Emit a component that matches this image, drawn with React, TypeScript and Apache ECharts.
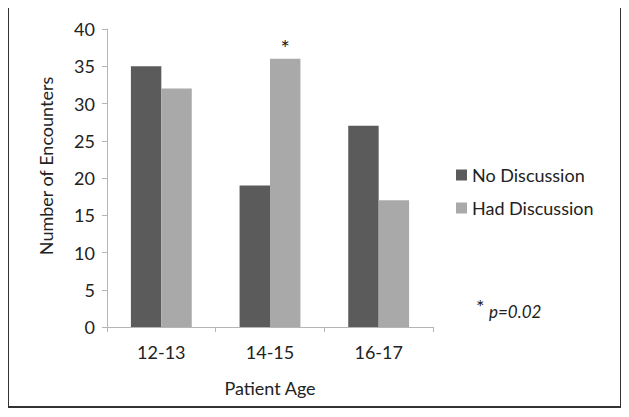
import React, { useEffect, useRef } from "react";
import * as echarts from "echarts";

const categories = ["12-13", "14-15", "16-17"];
const noDiscussion = [35, 19, 27];
const hadDiscussion = [32, 36, 17];
const significant = ["", "*", ""];
const yTicks = { min: 0, max: 40, interval: 5 };

const FONT = "Lato, 'DejaVu Sans', sans-serif";

export default function App() {
  const ref = useRef<HTMLDivElement>(null);
  useEffect(() => {
    if (!ref.current) return;
    const chart = echarts.init(ref.current, undefined, { renderer: "svg" });
    chart.setOption({
      animation: false,
      backgroundColor: "#ffffff",
      textStyle: { fontFamily: FONT },
      grid: { left: 107, right: 196, top: 29, bottom: 90 },
      legend: {
        orient: "vertical",
        left: 451,
        top: 161,
        itemWidth: 11,
        itemHeight: 11,
        itemGap: 15,
        icon: "rect",
        textStyle: { fontFamily: FONT, fontSize: 18, color: "#222" },
        data: ["No Discussion", "Had Discussion"],
      },
      xAxis: {
        type: "category",
        data: categories,
        axisLine: { lineStyle: { color: "#b5b5b5", width: 1 } },
        axisTick: { show: true, length: 5, lineStyle: { color: "#b5b5b5" } },
        axisLabel: { fontSize: 18, color: "#222", margin: 16, fontFamily: FONT },
        name: "Patient Age",
        nameLocation: "middle",
        nameGap: 52,
        nameTextStyle: { fontSize: 18, color: "#222", fontFamily: FONT },
      },
      yAxis: {
        type: "value",
        min: yTicks.min,
        max: yTicks.max,
        interval: yTicks.interval,
        splitLine: { show: false },
        axisLine: { show: true, lineStyle: { color: "#b5b5b5", width: 1 } },
        axisTick: { show: true, length: 5, lineStyle: { color: "#b5b5b5" } },
        axisLabel: { fontSize: 18, color: "#222", margin: 12, fontFamily: FONT },
      },
      series: [
        {
          name: "No Discussion",
          type: "bar",
          data: noDiscussion,
          itemStyle: { color: "#5b5b5b" },
          barGap: "0%",
          barCategoryGap: "44%",
        },
        {
          name: "Had Discussion",
          type: "bar",
          data: hadDiscussion,
          itemStyle: { color: "#a9a9a9" },
          label: {
            show: true,
            position: "top",
            distance: 0,
            fontSize: 22,
            color: "#222",
            formatter: (p: any) => significant[p.dataIndex],
          },
        },
      ],
      graphic: [
        {
          type: "rect",
          shape: { x: 8, y: 7, width: 613, height: 400 },
          style: { fill: "none", stroke: "#333", lineWidth: 2 },
          silent: true,
        },
        {
          type: "text",
          x: 46,
          y: 166,
          rotation: Math.PI / 2,
          style: {
            text: "Number of Encounters",
            fontSize: 18,
            fontFamily: FONT,
            fill: "#222",
            align: "center",
            verticalAlign: "middle",
          },
        },
        {
          type: "text",
          x: 476,
          y: 306,
          style: { text: "*", fontSize: 20, fontFamily: FONT, fill: "#222", verticalAlign: "middle" },
        },
        {
          type: "text",
          x: 489,
          y: 311,
          style: {
            text: "p=0.02",
            fontSize: 17,
            fontStyle: "italic",
            fontFamily: FONT,
            fill: "#222",
            verticalAlign: "middle",
          },
        },
      ],
    });
    return () => chart.dispose();
  }, []);
  return <div ref={ref} style={{ width: 629, height: 417, margin: -8 }} />;
}
